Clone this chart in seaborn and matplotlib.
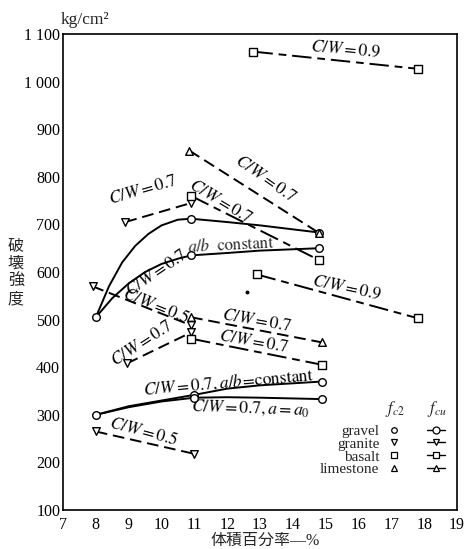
import matplotlib
matplotlib.use("Agg")
import matplotlib.pyplot as plt
from matplotlib.lines import Line2D
import seaborn as sns

sns.set_style("white")
plt.rcParams['font.family'] = ['Liberation Serif', 'Noto Sans CJK JP', 'DejaVu Sans']
plt.rcParams['mathtext.fontset'] = 'stix'

# ---------------- data ----------------
# gravel (circle), solid lines
gravel_top_x = [8.0, 8.4, 8.8, 9.2, 9.6, 10.0, 10.5, 10.9, 12.0, 13.0, 14.8]
gravel_top_y = [505, 570, 620, 655, 680, 698, 710, 712, 705, 698, 683]
gravel_ab_x = [8.0, 8.5, 9.0, 9.5, 10.0, 10.5, 10.9, 12.0, 13.0, 14.8]
gravel_ab_y = [505, 545, 576, 600, 617, 628, 635, 640, 645, 650]
gravel_low_ab_x = [8.0, 9.0, 10.0, 11.0, 12.0, 13.0, 14.9]
gravel_low_ab_y = [300, 318, 330, 342, 355, 362, 370]
gravel_low_a0_x = [8.0, 9.0, 10.0, 11.0, 12.0, 13.0, 14.9]
gravel_low_a0_y = [300, 316, 328, 336, 337, 336, 333]
# measured gravel points (circles)
gravel_pts_x = [8.0, 10.9, 10.9, 14.8, 14.8, 8.0, 11.0, 11.0, 14.9, 14.9]
gravel_pts_y = [505, 712, 635, 683, 650, 300, 342, 336, 370, 333]

# granite (down triangle), dashed
granite_07a_x = [8.9, 10.9]
granite_07a_y = [705, 745]
granite_05a_x = [7.9, 10.9]
granite_05a_y = [570, 488]
granite_07b_x = [8.95, 10.9]
granite_07b_y = [408, 473]
granite_05b_x = [8.0, 11.0]
granite_05b_y = [265, 218]

# basalt (square), dash-dot
basalt_09a_x = [12.8, 17.8]
basalt_09a_y = [1063, 1027]
basalt_07a_x = [10.9, 14.8]
basalt_07a_y = [760, 625]
basalt_09b_x = [12.9, 17.8]
basalt_09b_y = [595, 503]
basalt_07b_x = [10.9, 14.9]
basalt_07b_y = [460, 405]

# limestone (up triangle), dashed
lime_07a_x = [10.85, 14.8]
lime_07a_y = [855, 682]
lime_07b_x = [10.9, 14.9]
lime_07b_y = [505, 452]

stray_x = [12.6]
stray_y = [558]

materials = ['gravel', 'granite', 'basalt', 'limestone']
mat_markers = ['o', 'v', 's', '^']

x_ticks = list(range(7, 20))
y_ticks = list(range(100, 1101, 100))
y_ticklabels = ['100', '200', '300', '400', '500', '600', '700', '800', '900', '1 000', '1 100']

# ---------------- figure ----------------
fig = plt.figure(figsize=(4.68, 5.49), dpi=100)
ax = fig.add_axes([0.1346, 0.071, 0.842, 0.867])

solid = '-'
dashed = (0, (6, 3))
dashdot = (0, (10, 3, 4, 3))

lines = [
    (gravel_top_x, gravel_top_y, solid),
    (gravel_ab_x, gravel_ab_y, solid),
    (gravel_low_ab_x, gravel_low_ab_y, solid),
    (gravel_low_a0_x, gravel_low_a0_y, solid),
    (granite_07a_x, granite_07a_y, dashed),
    (granite_05a_x, granite_05a_y, dashed),
    (granite_07b_x, granite_07b_y, dashed),
    (granite_05b_x, granite_05b_y, dashed),
    (basalt_09a_x, basalt_09a_y, dashdot),
    (basalt_07a_x, basalt_07a_y, dashdot),
    (basalt_09b_x, basalt_09b_y, dashdot),
    (basalt_07b_x, basalt_07b_y, dashdot),
    (lime_07a_x, lime_07a_y, dashed),
    (lime_07b_x, lime_07b_y, dashed),
]
for xs, ys, ls in lines:
    sns.lineplot(x=xs, y=ys, ax=ax, sort=False, estimator=None, color='black',
                 linestyle=ls, linewidth=1.4)

point_sets = [
    (gravel_pts_x, gravel_pts_y, 'o'),
    (granite_07a_x + granite_05a_x + granite_07b_x + granite_05b_x,
     granite_07a_y + granite_05a_y + granite_07b_y + granite_05b_y, 'v'),
    (basalt_09a_x + basalt_07a_x + basalt_09b_x + basalt_07b_x,
     basalt_09a_y + basalt_07a_y + basalt_09b_y + basalt_07b_y, 's'),
    (lime_07a_x + lime_07b_x, lime_07a_y + lime_07b_y, '^'),
]
for px, py, mk in point_sets:
    sns.scatterplot(x=px, y=py, ax=ax, marker=mk, s=30, facecolor='white',
                    edgecolor='black', linewidth=1.0, zorder=5)

sns.scatterplot(x=stray_x, y=stray_y, ax=ax, color='black', s=8, linewidth=0)

ax.set_xlim(7, 19)
ax.set_ylim(100, 1100)
ax.set_xticks(x_ticks)
ax.set_xticklabels([str(t) for t in x_ticks])
ax.set_yticks(y_ticks)
ax.set_yticklabels(y_ticklabels)
ax.tick_params(direction='in', length=4, width=0.8, labelsize=11.5, colors='black')
ax.tick_params(axis='x', pad=5)
ax.tick_params(axis='y', pad=2)
for sp in ax.spines.values():
    sp.set_visible(True)
    sp.set_color('black')
    sp.set_linewidth(1.2)
ax.set_xlabel('')
ax.set_ylabel('')

# ---------------- annotations ----------------
fs = 12.5
def lab(x, y, s, rot):
    ax.text(x, y, s, rotation=rot, rotation_mode='anchor', ha='center', va='center',
            fontsize=fs, color='black')

lab(15.6, 1068, r'$C/W=0.9$', -5)
lab(13.15, 795, r'$C/W=0.7$', -35)
lab(9.45, 772, r'$C/W=0.7$', 16)
lab(11.8, 748, r'$C/W=0.7$', -31)
lab(9.85, 598, r'$C/W=0.7$', 34)
ax.text(12.1, 657, r'$a/b\ \ \mathrm{constant}$', rotation=3, rotation_mode='anchor',
        ha='center', va='center', fontsize=fs - 0.5)
lab(9.85, 528, r'$C/W=0.5$', -22)
lab(12.9, 496, r'$C/W=0.7$', -10)
lab(12.8, 452, r'$C/W=0.7$', -10)
lab(9.42, 449, r'$C/W=0.7$', 33)
lab(15.65, 566, r'$C/W=0.9$', -12)
lab(12.05, 369, r'$C/W=0.7,a/b\!=\!\mathrm{constant}$', 5)
lab(12.7, 314, r'$C/W=0.7,a=a_0$', -2)
lab(9.45, 264, r'$C/W=0.5$', -15)

# legend (two marker columns)
h_c2 = [Line2D([], [], marker=m, ls='none', mfc='white', mec='black', ms=4, mew=0.9)
        for m in mat_markers]
h_cu = [Line2D([], [], marker=m, ls='-', color='black', lw=1.0, mfc='white', mec='black',
               ms=5, mew=0.9) for m in mat_markers]
leg = ax.legend(h_c2 + h_cu, materials + [''] * 4, ncol=2, markerfirst=False,
                frameon=False, loc='lower right', bbox_to_anchor=(0.985, 0.058),
                fontsize=11, handlelength=1.2, handletextpad=0.35,
                columnspacing=1.2, labelspacing=-0.06, borderaxespad=0.0)
ax.text(0.842, 0.212, r'$f_{c2}$', transform=ax.transAxes, ha='center', va='center', fontsize=12)
ax.text(0.948, 0.212, r'$f_{cu}$', transform=ax.transAxes, ha='center', va='center', fontsize=12)

# axis titles
fig.text(0.182, 0.963, 'kg/cm²', ha='center', va='center', fontsize=12.5)
fig.text(0.034, 0.503, '破\n壊\n強\n度', ha='center', va='center', fontsize=11.5,
         linespacing=1.15)
fig.text(0.566, 0.015, '体積百分率—%', ha='center', va='center', fontsize=11.5)

fig.savefig('out.png', dpi=100)
